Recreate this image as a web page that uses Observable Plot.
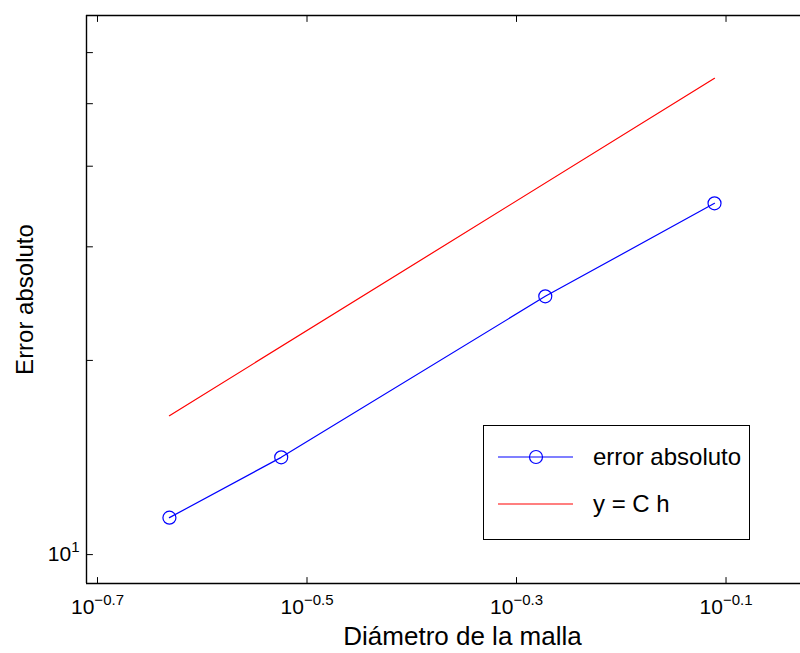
<!DOCTYPE html>
<html><head><meta charset="utf-8">
<script src="https://cdn.jsdelivr.net/npm/d3@7"></script>
<script src="https://cdn.jsdelivr.net/npm/@observablehq/plot@0.6"></script>
<style>
body{margin:0;background:#fff;font-family:"Liberation Sans",Arial,sans-serif;}
#wrap{position:relative;width:800px;height:653px;overflow:hidden;}
.legend{position:absolute;left:483px;top:425px;width:267px;height:115px;border:1.5px solid #000;background:#fff;box-sizing:border-box;}
.legend .row{position:absolute;left:0;height:30px;}
.legend .row span{position:absolute;left:109px;top:0;line-height:30px;font-size:24px;color:#000;white-space:nowrap;}
</style></head><body><div id="wrap"></div>
<script>
// data
const h = [0.2337, 0.2988, 0.5339, 0.7745];
const errorAbs = [11.41, 14.15, 25.14, 35.04];
const refH = [0.2337, 0.7745];
const refY = [16.42, 54.74];
const xTickExp = [-0.7, -0.5, -0.3, -0.1];
const yTicks = [10, 20, 30, 40, 50, 60];
const yLabelTicks = [10];
const yLabelExp = [1];
const xDomain = [Math.pow(10, -0.7105), Math.pow(10, -0.0289)];
const yDomain = [9.02, 68.5];
const seriesNames = ["error absoluto", "y = C h"];

const xTicks = xTickExp.map(e => Math.pow(10, e));
const blue = h.map((v, i) => ({h: v, e: errorAbs[i]}));
const red = refH.map((v, i) => ({h: v, e: refY[i]}));
const tickShape = {draw(ctx, l) { ctx.moveTo(0, 0); ctx.lineTo(0, -l); }};
const font = "Liberation Sans, Arial, Helvetica, sans-serif";

const chart = Plot.plot({
  width: 800, height: 653,
  marginTop: 15, marginBottom: 70, marginLeft: 86, marginRight: 0,
  style: {fontFamily: font, background: "#fff", color: "#000"},
  x: {type: "log", domain: xDomain},
  y: {type: "log", domain: yDomain},
  marks: [
    Plot.line(red, {x: "h", y: "e", stroke: "#ff0000", strokeWidth: 1.2}),
    Plot.line(blue, {x: "h", y: "e", stroke: "#0000ff", strokeWidth: 1.2}),
    Plot.dot(blue, {x: "h", y: "e", r: 6.5, stroke: "#0000ff", strokeWidth: 1.2, fill: "none"}),
    Plot.ruleY([yDomain[1]], {stroke: "#000", strokeWidth: 1.4}),
    Plot.ruleY([yDomain[0]], {stroke: "#000", strokeWidth: 1.4}),
    Plot.ruleX([xDomain[0]], {stroke: "#000", strokeWidth: 1.4}),
    Plot.vector(xTicks, {x: d => d, frameAnchor: "bottom", anchor: "start", length: 6, shape: tickShape, stroke: "#000", strokeWidth: 1}),
    Plot.vector(xTicks, {x: d => d, frameAnchor: "top", anchor: "start", rotate: 180, length: 6, shape: tickShape, stroke: "#000", strokeWidth: 1}),
    Plot.vector(yTicks, {y: d => d, frameAnchor: "left", anchor: "start", rotate: 90, length: 6, shape: tickShape, stroke: "#000", strokeWidth: 1}),
    Plot.axisX(xTicks, {tickSize: 0, tickPadding: 16, fontSize: 21, label: null,
      tickFormat: d => "10|" + xTickExp[xTicks.indexOf(d)]}),
    Plot.axisY(yLabelTicks, {tickSize: 0, tickPadding: 7, fontSize: 21, label: null,
      tickFormat: d => "10|" + yLabelExp[yLabelTicks.indexOf(d)]}),
    Plot.text(["Diámetro de la malla"], {frameAnchor: "bottom", textAnchor: "middle", lineAnchor: "middle", dx: 19, dy: 53, fontSize: 26, fill: "#000"}),
    Plot.text(["Error absoluto"], {frameAnchor: "left", textAnchor: "middle", lineAnchor: "middle", dx: -61, rotate: -90, fontSize: 24, fill: "#000"})
  ]
});

// superscripts
d3.select(chart).selectAll("text").each(function() {
  const t = this.textContent;
  if (t.includes("|")) {
    const [base, ex] = t.split("|");
    const el = d3.select(this);
    el.text(base);
    el.append("tspan").attr("dy", "-9").attr("font-size", 15).text(ex.replace("-", "\u2212"));
  }
});

const wrap = document.getElementById("wrap");
wrap.appendChild(chart);

// legend
const legend = document.createElement("div");
legend.className = "legend";
const rows = [
  {name: seriesNames[0], color: "#0000ff", marker: true, top: 16},
  {name: seriesNames[1], color: "#ff0000", marker: false, top: 63}
];
rows.forEach(r => {
  const row = document.createElement("div");
  row.className = "row";
  row.style.top = r.top + "px";
  row.style.width = "265px";
  row.innerHTML = `<svg width="100" height="30" style="position:absolute;left:0;top:0">
    <line x1="14" x2="89" y1="15" y2="15" stroke="${r.color}" stroke-width="1.2"/>
    ${r.marker ? `<circle cx="52" cy="15" r="6.5" fill="none" stroke="${r.color}" stroke-width="1.2"/>` : ""}
  </svg><span>${r.name}</span>`;
  legend.appendChild(row);
});
wrap.appendChild(legend);
</script>
</body></html>
